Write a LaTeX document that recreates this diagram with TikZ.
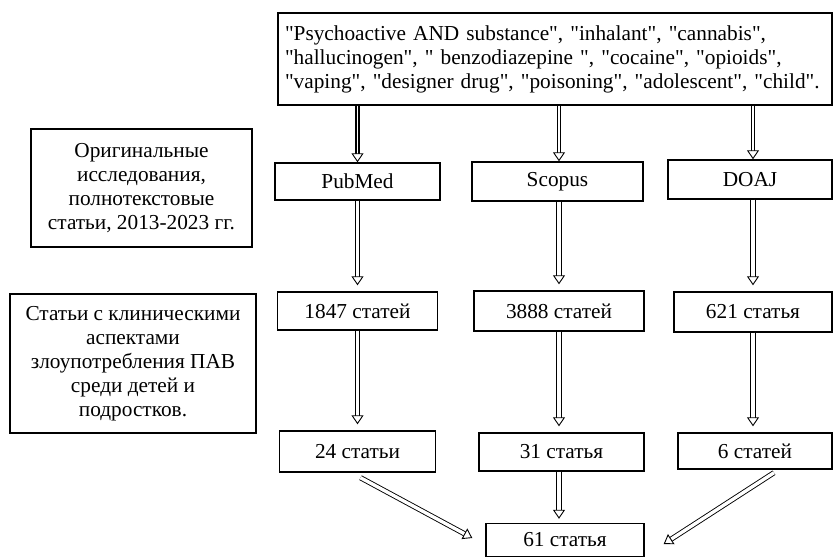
\documentclass[tikz,border=0pt]{standalone}
\usepackage{fontspec}
\setmainfont{Liberation Serif}[Ligatures=TeXOff]
\usetikzlibrary{arrows.meta,calc}

\begin{document}
\begin{tikzpicture}[x=1pt, y=-1pt,
  box/.style={draw, line width=1.4pt, inner sep=0pt, align=center,
    font=\fontsize{21.3}{24}\selectfont},
  link/.style={double, double distance=3.4pt, line width=0.9pt,
    -{Triangle[length=9pt, width=12pt, fill=white, line width=0.9pt]}, shorten >=6pt},
  feed/.style={link, double distance=1.2pt, line width=1.6pt, shorten >=0pt}]
  \useasboundingbox (0,0) rectangle (833,557);
  \node[box, minimum width=554pt, minimum height=92pt, text width=540pt, align=left] (kw) at (555,59)
    {"Psychoactive AND substance", "inhalant", "cannabis",\\
     "hallucinogen", " benzodiazepine ", "cocaine", "opioids",\\
     "vaping", "designer drug", "poisoning", "adolescent", "child".};
  \node[box, minimum width=221pt, minimum height=118pt] (crit1) at (141.5,188)
    {Оригинальные\\исследования,\\полнотекстовые\\статьи, 2013-2023 гг.};
  \node[box, minimum width=246pt, minimum height=139pt] (crit2) at (133,363.5)
    {Статьи с клиническими\\аспектами\\злоупотребления ПАВ\\среди детей и\\подростков.};
  \node[box, minimum width=165pt, minimum height=37pt] (pubmed) at (357.5,181.5) {PubMed};
  \node[box, minimum width=171pt, minimum height=39pt] (scopus) at (557.5,181.5) {Scopus};
  \node[box, minimum width=164pt, minimum height=39pt] (doaj) at (750,179.5) {DOAJ};
  \node[box, minimum width=160pt, minimum height=38pt] (n1847) at (357.5,311) {1847 статей};
  \node[box, minimum width=170pt, minimum height=40pt] (n3888) at (559,311) {3888 статей};
  \node[box, minimum width=158pt, minimum height=40pt] (n621) at (753,312) {621 статья};
  \node[box, minimum width=156pt, minimum height=41pt] (n24) at (357.5,451.5) {24 статьи};
  \node[box, minimum width=165pt, minimum height=38pt] (n31) at (561.5,452) {31 статья};
  \node[box, minimum width=154pt, minimum height=36pt] (n6) at (755,451) {6 статей};
  \node[box, minimum width=158pt, minimum height=33pt] (n61) at (565,540) {61 статья};
  \draw[feed] (kw.south -| pubmed) -- (pubmed);
  \draw[feed] (kw.south -| n3888) -- (scopus.north -| n3888);
  \draw[feed] (kw.south -| n621) -- (doaj.north -| n621);
  \draw[link] (pubmed) -- (n1847);
  \draw[link] (scopus.south -| n3888) -- (n3888);
  \draw[link] (doaj.south -| n621) -- (n621);
  \draw[link] (n1847) -- (n24);
  \draw[link] (n3888) -- (n3888 |- n31.north);
  \draw[link] (n621) -- (n621 |- n6.north);
  \draw[link, shorten >=4pt] (n31.south -| n3888) -- (n3888 |- n61.north);
  \draw[link, shorten >=0pt] ($(n24.south)+(3,5)$) -- ($(n61.west)+(-13,-2)$);
  \draw[link, shorten >=0pt] ($(n6.south)+(19,3)$) -- ($(n61.east)+(19,4)$);
\end{tikzpicture}
\end{document}
